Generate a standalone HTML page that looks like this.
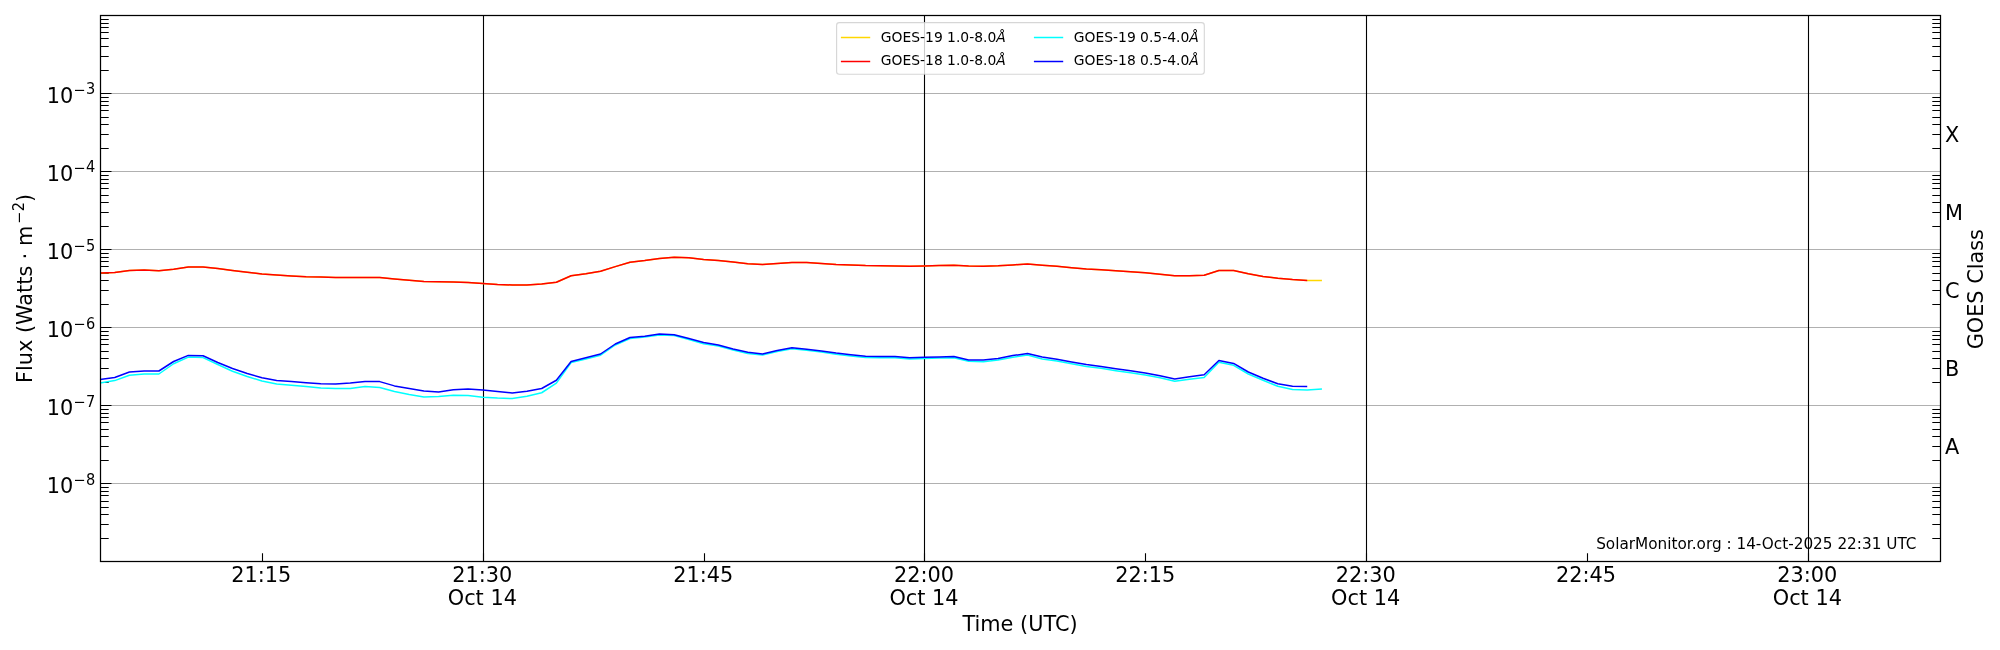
<!DOCTYPE html>
<html><head><meta charset="utf-8"><title>GOES X-ray flux</title>
<style>html,body{margin:0;padding:0;background:#fff;}svg{display:block;will-change:transform;}</style>
</head><body>
<svg width="2000" height="650" viewBox="0 0 2000 650">
<rect x="0" y="0" width="2000" height="650" fill="#ffffff"/>
<path d="M100.5 93.5H1940.5M100.5 171.5H1940.5M100.5 249.5H1940.5M100.5 327.5H1940.5M100.5 405.5H1940.5M100.5 483.5H1940.5" stroke="#b0b0b0" stroke-width="1.1" fill="none"/>
<path d="M483.5 15.5V561.5M924.5 15.5V561.5M1366.5 15.5V561.5M1808.5 15.5V561.5" stroke="#000" stroke-width="1.1" fill="none"/>
<path d="M100.5 15.5h11.0M100.5 93.5h11.0M100.5 171.5h11.0M100.5 249.5h11.0M100.5 327.5h11.0M100.5 405.5h11.0M100.5 483.5h11.0M100.5 561.5h11.0M100.5 70.5h8.2M1940.5 70.5h-8.2M100.5 56.5h8.2M1940.5 56.5h-8.2M100.5 46.5h8.2M1940.5 46.5h-8.2M100.5 38.5h8.2M1940.5 38.5h-8.2M100.5 32.5h8.2M1940.5 32.5h-8.2M100.5 27.5h8.2M1940.5 27.5h-8.2M100.5 23.5h8.2M1940.5 23.5h-8.2M100.5 19.5h8.2M1940.5 19.5h-8.2M100.5 148.5h8.2M1940.5 148.5h-8.2M100.5 134.5h8.2M1940.5 134.5h-8.2M100.5 124.5h8.2M1940.5 124.5h-8.2M100.5 117.5h8.2M1940.5 117.5h-8.2M100.5 110.5h8.2M1940.5 110.5h-8.2M100.5 105.5h8.2M1940.5 105.5h-8.2M100.5 101.5h8.2M1940.5 101.5h-8.2M100.5 97.5h8.2M1940.5 97.5h-8.2M100.5 226.5h8.2M1940.5 226.5h-8.2M100.5 212.5h8.2M1940.5 212.5h-8.2M100.5 202.5h8.2M1940.5 202.5h-8.2M100.5 195.5h8.2M1940.5 195.5h-8.2M100.5 188.5h8.2M1940.5 188.5h-8.2M100.5 183.5h8.2M1940.5 183.5h-8.2M100.5 179.5h8.2M1940.5 179.5h-8.2M100.5 175.5h8.2M1940.5 175.5h-8.2M100.5 304.5h8.2M1940.5 304.5h-8.2M100.5 290.5h8.2M1940.5 290.5h-8.2M100.5 280.5h8.2M1940.5 280.5h-8.2M100.5 273.5h8.2M1940.5 273.5h-8.2M100.5 266.5h8.2M1940.5 266.5h-8.2M100.5 261.5h8.2M1940.5 261.5h-8.2M100.5 257.5h8.2M1940.5 257.5h-8.2M100.5 253.5h8.2M1940.5 253.5h-8.2M100.5 382.5h8.2M1940.5 382.5h-8.2M100.5 368.5h8.2M1940.5 368.5h-8.2M100.5 358.5h8.2M1940.5 358.5h-8.2M100.5 351.5h8.2M1940.5 351.5h-8.2M100.5 344.5h8.2M1940.5 344.5h-8.2M100.5 339.5h8.2M1940.5 339.5h-8.2M100.5 335.5h8.2M1940.5 335.5h-8.2M100.5 331.5h8.2M1940.5 331.5h-8.2M100.5 460.5h8.2M1940.5 460.5h-8.2M100.5 446.5h8.2M1940.5 446.5h-8.2M100.5 436.5h8.2M1940.5 436.5h-8.2M100.5 429.5h8.2M1940.5 429.5h-8.2M100.5 422.5h8.2M1940.5 422.5h-8.2M100.5 417.5h8.2M1940.5 417.5h-8.2M100.5 413.5h8.2M1940.5 413.5h-8.2M100.5 409.5h8.2M1940.5 409.5h-8.2M100.5 538.5h8.2M1940.5 538.5h-8.2M100.5 524.5h8.2M1940.5 524.5h-8.2M100.5 514.5h8.2M1940.5 514.5h-8.2M100.5 507.5h8.2M1940.5 507.5h-8.2M100.5 501.5h8.2M1940.5 501.5h-8.2M100.5 495.5h8.2M1940.5 495.5h-8.2M100.5 491.5h8.2M1940.5 491.5h-8.2M100.5 487.5h8.2M1940.5 487.5h-8.2M262.5 561.5v-8.2M483.5 561.5v-8.2M704.5 561.5v-8.2M924.5 561.5v-8.2M1145.5 561.5v-8.2M1366.5 561.5v-8.2M1587.5 561.5v-8.2M1808.5 561.5v-8.2" stroke="#000" stroke-width="1.1" fill="none"/>
<polyline points="100.00,272.90 114.72,272.50 129.44,270.60 144.17,270.10 158.89,270.75 173.61,269.25 188.33,267.10 203.06,266.90 217.78,268.40 232.50,270.40 247.22,272.25 261.94,274.00 276.67,275.10 291.39,276.00 306.11,276.75 320.83,277.10 335.56,277.45 350.28,277.60 365.00,277.40 379.72,277.60 394.44,278.90 409.17,280.25 423.89,281.50 438.61,281.75 453.33,281.90 468.06,282.40 482.78,283.50 497.50,284.50 512.22,285.00 526.94,284.90 541.67,284.10 556.39,282.25 571.11,275.80 585.83,273.75 600.55,271.25 615.28,266.60 630.00,262.25 644.72,260.60 659.44,258.50 674.17,257.25 688.89,257.75 703.61,259.40 718.33,260.50 733.05,262.10 747.78,263.75 762.50,264.60 777.22,263.40 791.94,262.40 806.67,262.60 821.39,263.40 836.11,264.40 850.83,264.90 865.55,265.60 880.28,265.80 895.00,265.90 909.72,266.25 924.44,265.90 939.17,265.60 953.89,265.25 968.61,266.10 983.33,266.25 998.05,265.75 1012.78,264.90 1027.50,264.10 1042.22,265.30 1056.94,266.25 1071.67,267.75 1086.39,269.00 1101.11,269.85 1115.83,270.75 1130.55,271.65 1145.28,272.70 1160.00,274.20 1174.72,275.70 1189.44,275.70 1204.16,275.25 1218.89,270.45 1233.61,270.45 1248.33,273.75 1263.05,276.45 1277.78,278.25 1292.50,279.60 1307.22,280.50 1321.94,280.50" fill="none" stroke="#ffd700" stroke-width="1.5" stroke-linejoin="round" stroke-linecap="butt"/>
<polyline points="100.00,272.90 114.72,272.50 129.44,270.60 144.17,270.10 158.89,270.75 173.61,269.25 188.33,267.10 203.06,266.90 217.78,268.40 232.50,270.40 247.22,272.25 261.94,274.00 276.67,275.10 291.39,276.00 306.11,276.75 320.83,277.10 335.56,277.45 350.28,277.60 365.00,277.40 379.72,277.60 394.44,278.90 409.17,280.25 423.89,281.50 438.61,281.75 453.33,281.90 468.06,282.40 482.78,283.50 497.50,284.50 512.22,285.00 526.94,284.90 541.67,284.10 556.39,282.25 571.11,275.80 585.83,273.75 600.55,271.25 615.28,266.60 630.00,262.25 644.72,260.60 659.44,258.50 674.17,257.25 688.89,257.75 703.61,259.40 718.33,260.50 733.05,262.10 747.78,263.75 762.50,264.60 777.22,263.40 791.94,262.40 806.67,262.60 821.39,263.40 836.11,264.40 850.83,264.90 865.55,265.60 880.28,265.80 895.00,265.90 909.72,266.25 924.44,265.90 939.17,265.60 953.89,265.25 968.61,266.10 983.33,266.25 998.05,265.75 1012.78,264.90 1027.50,264.10 1042.22,265.30 1056.94,266.25 1071.67,267.75 1086.39,269.00 1101.11,269.85 1115.83,270.75 1130.55,271.65 1145.28,272.70 1160.00,274.20 1174.72,275.70 1189.44,275.70 1204.16,275.25 1218.89,270.45 1233.61,270.45 1248.33,273.75 1263.05,276.45 1277.78,278.25 1292.50,279.60 1307.22,280.50" fill="none" stroke="#ff0000" stroke-width="1.5" stroke-linejoin="round" stroke-linecap="butt"/>
<polyline points="100.00,382.90 114.72,380.60 129.44,375.25 144.17,374.00 158.89,374.00 173.61,363.75 188.33,357.10 203.06,357.60 217.78,364.50 232.50,371.25 247.22,376.50 261.94,381.00 276.67,384.00 291.39,385.25 306.11,386.50 320.83,388.10 335.56,388.60 350.28,388.50 365.00,386.50 379.72,387.50 394.44,391.50 409.17,394.40 423.89,396.90 438.61,396.50 453.33,395.25 468.06,395.60 482.78,397.25 497.50,398.10 512.22,398.50 526.94,396.25 541.67,392.75 556.39,383.10 571.11,362.60 585.83,359.00 600.55,355.25 615.28,345.00 630.00,338.50 644.72,337.00 659.44,335.00 674.17,335.50 688.89,339.50 703.61,343.75 718.33,346.00 733.05,350.00 747.78,353.50 762.50,355.00 777.22,351.50 791.94,348.75 806.67,350.25 821.39,352.00 836.11,354.25 850.83,355.90 865.55,357.50 880.28,357.75 895.00,357.75 909.72,359.00 924.44,358.50 939.17,358.00 953.89,357.75 968.61,361.25 983.33,361.75 998.05,360.00 1012.78,357.25 1027.50,355.00 1042.22,359.00 1056.94,361.10 1071.67,363.80 1086.39,366.50 1101.11,368.30 1115.83,370.70 1130.55,372.80 1145.28,375.00 1160.00,377.75 1174.72,381.20 1189.44,379.25 1204.16,377.50 1218.89,362.30 1233.61,365.30 1248.33,374.00 1263.05,380.30 1277.78,386.30 1292.50,389.50 1307.22,390.00 1321.94,389.00" fill="none" stroke="#00ffff" stroke-width="1.5" stroke-linejoin="round" stroke-linecap="butt"/>
<polyline points="100.00,379.50 114.72,377.50 129.44,372.00 144.17,370.90 158.89,371.00 173.61,361.50 188.33,355.40 203.06,355.75 217.78,362.50 232.50,368.50 247.22,373.50 261.94,377.75 276.67,380.40 291.39,381.60 306.11,382.75 320.83,383.75 335.56,383.90 350.28,383.10 365.00,381.50 379.72,381.60 394.44,385.90 409.17,388.50 423.89,391.00 438.61,391.90 453.33,389.75 468.06,388.90 482.78,390.00 497.50,391.50 512.22,392.90 526.94,391.25 541.67,388.50 556.39,380.25 571.11,361.50 585.83,357.75 600.55,354.00 615.28,344.00 630.00,337.50 644.72,336.25 659.44,334.10 674.17,334.75 688.89,338.50 703.61,342.50 718.33,345.00 733.05,349.00 747.78,352.25 762.50,354.10 777.22,350.60 791.94,347.75 806.67,349.25 821.39,351.00 836.11,353.10 850.83,354.75 865.55,356.25 880.28,356.50 895.00,356.50 909.72,357.75 924.44,357.25 939.17,356.90 953.89,356.50 968.61,360.00 983.33,360.00 998.05,358.50 1012.78,355.60 1027.50,353.50 1042.22,357.00 1056.94,359.25 1071.67,362.00 1086.39,364.50 1101.11,366.50 1115.83,368.70 1130.55,370.80 1145.28,373.00 1160.00,375.75 1174.72,378.90 1189.44,376.80 1204.16,374.70 1218.89,360.45 1233.61,363.45 1248.33,372.00 1263.05,378.30 1277.78,383.70 1292.50,386.25 1307.22,386.40" fill="none" stroke="#0000ff" stroke-width="1.5" stroke-linejoin="round" stroke-linecap="butt"/>
<rect x="100.5" y="15.5" width="1840.0" height="546.0" fill="none" stroke="#000" stroke-width="1.25"/>
<g font-family="'DejaVu Sans', 'Liberation Sans', sans-serif" fill="#000">
<text x="46.66" y="102.72" font-size="20.83px">10</text>
<text x="73.37" y="94.62" font-size="14.58px">−</text>
<text transform="translate(86.06,94.42) scale(1,1.12)" font-size="14.58px">3</text>
<text x="46.66" y="180.76" font-size="20.83px">10</text>
<text x="73.37" y="172.66" font-size="14.58px">−</text>
<text transform="translate(86.06,172.46) scale(1,1.12)" font-size="14.58px">4</text>
<text x="46.66" y="258.80" font-size="20.83px">10</text>
<text x="73.37" y="250.70" font-size="14.58px">−</text>
<text transform="translate(86.06,250.50) scale(1,1.12)" font-size="14.58px">5</text>
<text x="46.66" y="336.84" font-size="20.83px">10</text>
<text x="73.37" y="328.74" font-size="14.58px">−</text>
<text transform="translate(86.06,328.54) scale(1,1.12)" font-size="14.58px">6</text>
<text x="46.66" y="414.88" font-size="20.83px">10</text>
<text x="73.37" y="406.78" font-size="14.58px">−</text>
<text transform="translate(86.06,406.58) scale(1,1.12)" font-size="14.58px">7</text>
<text x="46.66" y="492.92" font-size="20.83px">10</text>
<text x="73.37" y="484.82" font-size="14.58px">−</text>
<text transform="translate(86.06,484.62) scale(1,1.12)" font-size="14.58px">8</text>
<text x="261.19" y="581.9" font-size="20.83px" text-anchor="middle">21:15</text>
<text x="703.16" y="581.9" font-size="20.83px" text-anchor="middle">21:45</text>
<text x="1145.33" y="581.9" font-size="20.83px" text-anchor="middle">22:15</text>
<text x="1586.09" y="581.9" font-size="20.83px" text-anchor="middle">22:45</text>
<text x="482.33" y="581.9" font-size="20.83px" text-anchor="middle">21:30</text>
<text x="482.33" y="604.6" font-size="20.83px" text-anchor="middle">Oct 14</text>
<text x="923.99" y="581.9" font-size="20.83px" text-anchor="middle">22:00</text>
<text x="923.99" y="604.6" font-size="20.83px" text-anchor="middle">Oct 14</text>
<text x="1365.66" y="581.9" font-size="20.83px" text-anchor="middle">22:30</text>
<text x="1365.66" y="604.6" font-size="20.83px" text-anchor="middle">Oct 14</text>
<text x="1807.33" y="581.9" font-size="20.83px" text-anchor="middle">23:00</text>
<text x="1807.33" y="604.6" font-size="20.83px" text-anchor="middle">Oct 14</text>
<text x="1020" y="630.9" font-size="20.83px" text-anchor="middle">Time (UTC)</text>
<g transform="translate(32.0,383.0) rotate(-90)">
<text x="0" y="0" font-size="20.83px">Flux (Watts ⋅ m</text>
<text x="158.97" y="-7.975" font-size="14.58px">−</text>
<text transform="translate(171.69,-8.174999999999999) scale(1,1.12)" font-size="14.58px">2</text>
<text x="181.04" y="0" font-size="20.83px">)</text>
</g>
<text transform="translate(1983,289.2) rotate(-90)" x="0" y="0" font-size="20.83px" text-anchor="middle">GOES Class</text>
<text x="1945" y="142.03" font-size="20.83px">X</text>
<text x="1945" y="220.07" font-size="20.83px">M</text>
<text x="1945" y="298.11" font-size="20.83px">C</text>
<text x="1945" y="376.15" font-size="20.83px">B</text>
<text x="1945" y="454.19" font-size="20.83px">A</text>
<text x="1916.5" y="548.9" font-size="15.28px" text-anchor="end">SolarMonitor.org : 14-Oct-2025 22:31 UTC</text>
</g>
<rect x="836.6" y="22.6" width="367.69999999999993" height="51.699999999999996" rx="2.78" ry="2.78" fill="#ffffff" fill-opacity="0.8" stroke="#cccccc" stroke-opacity="0.8" stroke-width="1.1"/>
<path d="M840.9000000000001 37.5h29.3" stroke="#ffd700" stroke-width="1.5"/>
<text x="880.8" y="41.9" font-family="'DejaVu Sans', 'Liberation Sans', sans-serif" font-size="13.89px" fill="#000">GOES-19 1.0-8.0<tspan font-style="italic">Å</tspan></text>
<path d="M840.9000000000001 61.5h29.3" stroke="#ff0000" stroke-width="1.5"/>
<text x="880.8" y="64.8" font-family="'DejaVu Sans', 'Liberation Sans', sans-serif" font-size="13.89px" fill="#000">GOES-18 1.0-8.0<tspan font-style="italic">Å</tspan></text>
<path d="M1033.9 37.5h29.3" stroke="#00ffff" stroke-width="1.5"/>
<text x="1073.8" y="41.9" font-family="'DejaVu Sans', 'Liberation Sans', sans-serif" font-size="13.89px" fill="#000">GOES-19 0.5-4.0<tspan font-style="italic">Å</tspan></text>
<path d="M1033.9 61.5h29.3" stroke="#0000ff" stroke-width="1.5"/>
<text x="1073.8" y="64.8" font-family="'DejaVu Sans', 'Liberation Sans', sans-serif" font-size="13.89px" fill="#000">GOES-18 0.5-4.0<tspan font-style="italic">Å</tspan></text>
</svg>
</body></html>
